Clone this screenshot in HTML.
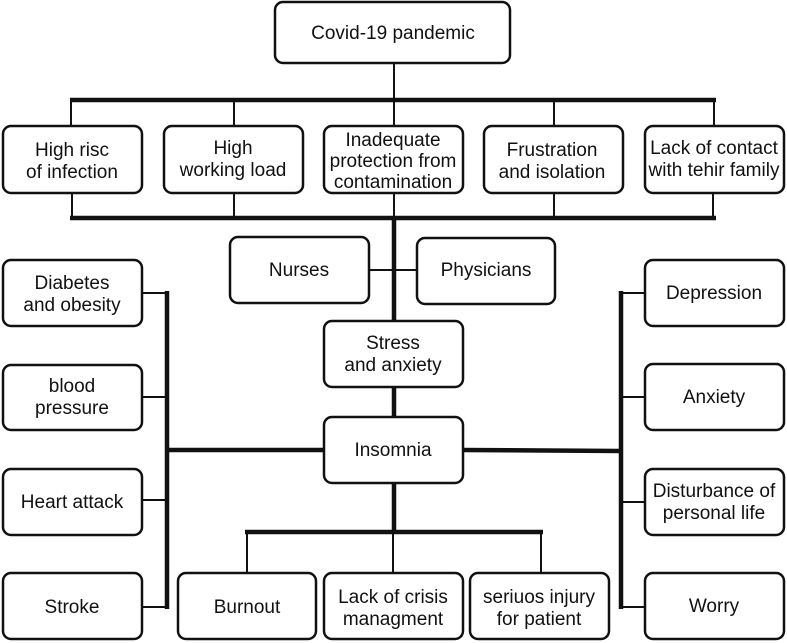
<!DOCTYPE html>
<html><head><meta charset="utf-8"><style>
html,body{margin:0;padding:0;background:#fff}
svg{display:block}
text{font-family:"Liberation Sans",Arial,sans-serif;font-size:19px;fill:#111;text-anchor:middle}
.b{fill:#fff;stroke:#111;stroke-width:2.5}
.t{stroke:#111;stroke-width:2;fill:none}
.k{stroke:#111;stroke-width:4.5;fill:none}
</style></head><body>
<svg width="787" height="643" viewBox="0 0 787 643">
<line class="t" x1="394" y1="63" x2="394" y2="100"/>
<line class="k" x1="70" y1="100" x2="716" y2="100"/>
<line class="t" x1="71" y1="100" x2="71" y2="127"/>
<line class="t" x1="234" y1="100" x2="234" y2="127"/>
<line class="t" x1="394" y1="100" x2="394" y2="127"/>
<line class="t" x1="554" y1="100" x2="554" y2="127"/>
<line class="t" x1="714" y1="100" x2="714" y2="127"/>
<line class="t" x1="72" y1="192" x2="72" y2="218"/>
<line class="t" x1="234" y1="192" x2="234" y2="218"/>
<line class="t" x1="394" y1="192" x2="394" y2="218"/>
<line class="t" x1="554" y1="192" x2="554" y2="218"/>
<line class="t" x1="713" y1="192" x2="713" y2="218"/>
<line class="k" x1="70" y1="218" x2="716" y2="218"/>
<line class="k" x1="394" y1="218" x2="394" y2="322"/>
<line class="t" x1="369" y1="270" x2="417" y2="270"/>
<line class="k" x1="394" y1="387" x2="394" y2="418"/>
<line class="k" x1="394" y1="482" x2="394" y2="533"/>
<line class="k" x1="245" y1="532" x2="543" y2="532"/>
<line class="t" x1="247" y1="532" x2="247" y2="574"/>
<line class="t" x1="393" y1="532" x2="393" y2="574"/>
<line class="t" x1="541" y1="532" x2="541" y2="574"/>
<line class="k" x1="167" y1="291" x2="167" y2="609"/>
<line class="t" x1="142" y1="293" x2="167" y2="293"/>
<line class="t" x1="142" y1="397" x2="167" y2="397"/>
<line class="t" x1="142" y1="500" x2="167" y2="500"/>
<line class="t" x1="142" y1="607" x2="167" y2="607"/>
<line class="k" x1="167" y1="450" x2="324" y2="450"/>
<line class="k" x1="621" y1="291" x2="621" y2="609"/>
<line class="t" x1="621" y1="293" x2="645" y2="293"/>
<line class="t" x1="621" y1="397" x2="645" y2="397"/>
<line class="t" x1="621" y1="502" x2="645" y2="502"/>
<line class="t" x1="621" y1="607" x2="645" y2="607"/>
<line class="k" x1="463" y1="450" x2="621" y2="451"/>
<rect class="b" x="275" y="2" width="235" height="61" rx="8"/>
<text x="393" y="39">Covid-19 pandemic</text>
<rect class="b" x="3" y="126" width="139" height="67" rx="8"/>
<text x="72" y="156">High risc</text><text x="72" y="178">of infection</text>
<rect class="b" x="164" y="126" width="139" height="67" rx="8"/>
<text x="233" y="154">High</text><text x="233" y="176">working load</text>
<rect class="b" x="324" y="126" width="139" height="67" rx="8"/>
<text x="393" y="146">Inadequate</text><text x="393" y="167">protection from</text><text x="393" y="188">contamination</text>
<rect class="b" x="484" y="126" width="139" height="67" rx="8"/>
<text x="552" y="156">Frustration</text><text x="552" y="178">and isolation</text>
<rect class="b" x="645" y="126" width="139" height="67" rx="8"/>
<text x="714" y="154">Lack of contact</text><text x="714" y="176">with tehir family</text>
<rect class="b" x="230" y="237" width="139" height="66" rx="8"/>
<text x="299" y="276">Nurses</text>
<rect class="b" x="417" y="238" width="138" height="66" rx="8"/>
<text x="486" y="276">Physicians</text>
<rect class="b" x="324" y="321" width="139" height="66" rx="8"/>
<text x="393" y="349">Stress</text><text x="393" y="371">and anxiety</text>
<rect class="b" x="324" y="417" width="139" height="66" rx="8"/>
<text x="393" y="456">Insomnia</text>
<rect class="b" x="3" y="260" width="139" height="66" rx="8"/>
<text x="72" y="289">Diabetes</text><text x="72" y="311">and obesity</text>
<rect class="b" x="3" y="365" width="139" height="65" rx="8"/>
<text x="72" y="392">blood</text><text x="72" y="414">pressure</text>
<rect class="b" x="3" y="469" width="139" height="66" rx="8"/>
<text x="72" y="508">Heart attack</text>
<rect class="b" x="3" y="573" width="139" height="66" rx="8"/>
<text x="72" y="613">Stroke</text>
<rect class="b" x="178" y="573" width="138" height="66" rx="8"/>
<text x="247" y="613">Burnout</text>
<rect class="b" x="324" y="573" width="139" height="66" rx="8"/>
<text x="393" y="603">Lack of crisis</text><text x="393" y="625">managment</text>
<rect class="b" x="470" y="573" width="139" height="66" rx="8"/>
<text x="539" y="603">seriuos injury</text><text x="539" y="625">for patient</text>
<rect class="b" x="645" y="260" width="139" height="66" rx="8"/>
<text x="714" y="299">Depression</text>
<rect class="b" x="645" y="364" width="139" height="66" rx="8"/>
<text x="714" y="403">Anxiety</text>
<rect class="b" x="645" y="469" width="139" height="66" rx="8"/>
<text x="714" y="497">Disturbance of</text><text x="714" y="519">personal life</text>
<rect class="b" x="645" y="573" width="139" height="66" rx="8"/>
<text x="714" y="612">Worry</text>
</svg>
</body></html>
